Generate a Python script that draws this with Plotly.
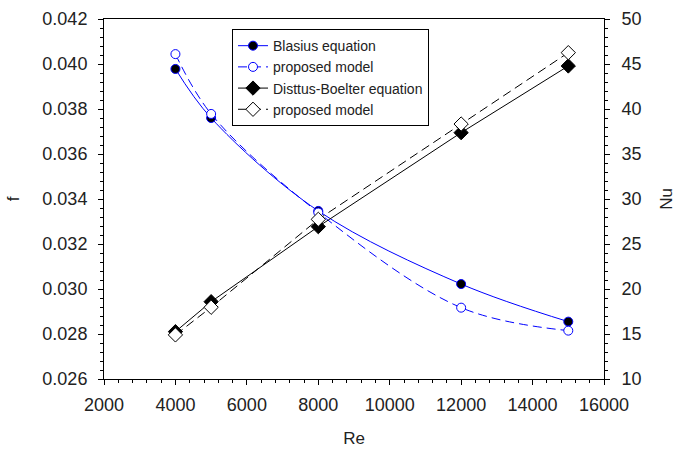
import plotly.graph_objects as go

# Reynolds numbers of the computed cases
re = [4000, 5000, 8000, 12000, 15000]

# Friction factor
f_blasius = [0.03978, 0.03760, 0.03347, 0.03022, 0.02855]
f_model = [0.04044, 0.03778, 0.03340, 0.02917, 0.02815]

# Nusselt number
nu_dittus = [15.26, 18.59, 26.93, 37.37, 44.78]
nu_model = [14.90, 17.97, 27.74, 38.33, 46.26]

FONT = "Liberation Sans, Arial, sans-serif"
BLUE = "#0000ff"
TXT = "#222"

fig = go.Figure()

fig.add_trace(go.Scatter(
    x=re, y=f_blasius, name="Blasius equation", mode="lines+markers",
    line=dict(color=BLUE, width=1, shape="spline"),
    marker=dict(symbol="circle", size=9, color="black", line=dict(color=BLUE, width=1)),
))
fig.add_trace(go.Scatter(
    x=re, y=f_model, name="proposed model", mode="lines+markers",
    line=dict(color=BLUE, width=1, shape="spline", dash="9px,5px"),
    marker=dict(symbol="circle", size=9, color="white", line=dict(color=BLUE, width=1)),
))
fig.add_trace(go.Scatter(
    x=re, y=nu_dittus, name="Disttus-Boelter equation", mode="lines+markers", yaxis="y2",
    line=dict(color="black", width=1),
    marker=dict(symbol="diamond", size=11, color="black", line=dict(color="black", width=1)),
))
fig.add_trace(go.Scatter(
    x=re, y=nu_model, name="proposed model", mode="lines+markers", yaxis="y2",
    line=dict(color="black", width=1, dash="9px,5px"),
    marker=dict(symbol="diamond", size=11, color="white", line=dict(color="black", width=1)),
))

axis_common = dict(
    showgrid=False, zeroline=False, showline=True, linecolor="black", linewidth=1,
    ticks="outside", ticklen=5, tickcolor="black", tickwidth=1, automargin=False,
    tickfont=dict(family=FONT, size=18, color=TXT),
)

fig.update_layout(
    width=676, height=451,
    margin=dict(l=104, r=72, t=19, b=72),
    paper_bgcolor="white", plot_bgcolor="white",
    font=dict(family=FONT, size=17, color=TXT),
    showlegend=True,
    xaxis=dict(
        **axis_common, range=[2000, 16000], dtick=2000, tick0=2000, tickformat="d",
        mirror=True, ticklabelstandoff=4,
        minor=dict(ticks="outside", ticklen=3, dtick=400, tick0=2000, tickcolor="black"),
        title=dict(text="Re", font=dict(family=FONT, size=17, color=TXT), standoff=18),
    ),
    yaxis=dict(
        **axis_common, range=[0.026, 0.042], dtick=0.002, tick0=0.026, tickformat=".3f",
        ticklabelstandoff=7,
        minor=dict(ticks="outside", ticklen=3, dtick=0.0004, tick0=0.026, tickcolor="black"),
        title=dict(text="f", font=dict(family=FONT, size=17, color=TXT), standoff=18),
    ),
    yaxis2=dict(
        **axis_common, overlaying="y", side="right", range=[10, 50], dtick=5, tick0=10,
        ticklabelstandoff=8,
        minor=dict(ticks="outside", ticklen=3, dtick=1, tick0=10, tickcolor="black"),
        title=dict(text="Nu", font=dict(family=FONT, size=17, color=TXT), standoff=20),
    ),
    legend=dict(
        x=0.256, y=0.972, xanchor="left", yanchor="top",
        bgcolor="white", bordercolor="black", borderwidth=1,
        font=dict(family=FONT, size=14, color=TXT),
        tracegroupgap=0,
    ),
)

fig.write_html("out.html")
